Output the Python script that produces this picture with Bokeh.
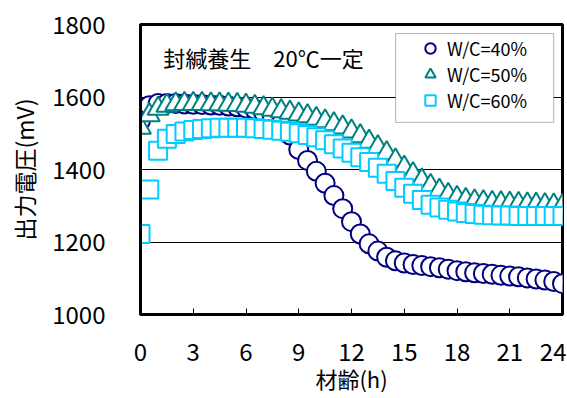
from bokeh.plotting import figure
from bokeh.models import Legend, LegendItem, FixedTicker, Label, BoxAnnotation, ColumnDataSource
from bokeh.embed import file_html
from bokeh.resources import INLINE

# --- data ---
hours = [0, 0.5, 1, 1.5, 2, 2.5, 3, 3.5, 4, 4.5, 5, 5.5, 6, 6.5, 7, 7.5, 8, 8.5,
         9, 9.5, 10, 10.5, 11, 11.5, 12, 12.5, 13, 13.5, 14, 14.5, 15, 15.5, 16,
         16.5, 17, 17.5, 18, 18.5, 19, 19.5, 20, 20.5, 21, 21.5, 22, 22.5, 23,
         23.5, 24]

wc40 = [1535, 1576, 1582, 1582, 1582, 1581, 1580, 1579, 1578, 1577, 1575, 1573,
        1570, 1566, 1558, 1546, 1527, 1495, 1455, 1425, 1395, 1362, 1328, 1292,
        1256, 1222, 1195, 1175, 1158, 1148, 1142, 1138, 1135, 1132, 1129, 1125,
        1121, 1118, 1115, 1113, 1111, 1108, 1106, 1104, 1101, 1098, 1095, 1091,
        1085]

wc50 = [1515, 1550, 1568, 1576, 1580, 1581, 1581, 1581, 1580, 1580, 1579, 1578,
        1576, 1573, 1569, 1565, 1561, 1557, 1552, 1547, 1540, 1533, 1525, 1516,
        1505, 1492, 1477, 1462, 1445, 1425, 1405, 1387, 1370, 1355, 1342, 1330,
        1322, 1316, 1312, 1310, 1308, 1307, 1306, 1305, 1304, 1303, 1302, 1301,
        1300]

wc60 = [1222, 1345, 1452, 1485, 1498, 1505, 1509, 1512, 1514, 1515, 1515, 1515,
        1515, 1514, 1512, 1510, 1507, 1504, 1500, 1495, 1489, 1481, 1470, 1458,
        1446, 1434, 1421, 1405, 1388, 1368, 1350, 1333, 1316, 1303, 1295, 1289,
        1284, 1280, 1277, 1275, 1274, 1273, 1273, 1272, 1272, 1272, 1272, 1272,
        1272]

series_labels = ["W/C=40%", "W/C=50%", "W/C=60%"]
x_ticks = [0, 3, 6, 9, 12, 15, 18, 21, 24]
y_ticks = [1000, 1200, 1400, 1600, 1800]
x_title = "材齢(h)"
y_title = "出力電圧(mV)"
note = "封緘養生　20℃一定"

FONT = "Noto Sans CJK JP"

src = ColumnDataSource(dict(h=hours, a=wc40, b=wc50, c=wc60))

p = figure(width=566, height=398, x_range=(0, 24), y_range=(1000, 1800),
           output_backend="svg", toolbar_location=None,
           min_border_left=140, min_border_right=4, min_border_top=24,
           min_border_bottom=84)

p.background_fill_color = "white"
p.border_fill_color = "white"
p.outline_line_color = "black"
p.outline_line_width = 3

# grid
p.xgrid.visible = False
p.ygrid.ticker = FixedTicker(ticks=y_ticks)
p.ygrid.grid_line_color = "black"
p.ygrid.grid_line_width = 1.2

# axes
p.xaxis.ticker = FixedTicker(ticks=x_ticks)
p.yaxis.ticker = FixedTicker(ticks=y_ticks)
for ax in (p.xaxis[0], p.yaxis[0]):
    ax.axis_line_width = 3
    ax.axis_line_color = "black"
    ax.major_label_text_font = FONT
    ax.major_label_text_font_size = "24px"
    ax.major_label_text_color = "black"
    ax.axis_label_text_font = FONT
    ax.axis_label_text_font_size = "22px"
    ax.axis_label_text_font_style = "normal"
    ax.axis_label_text_color = "black"
    ax.minor_tick_line_color = None

p.xaxis.major_tick_in = 6
p.xaxis.major_tick_out = 0
p.xaxis.major_tick_line_width = 1
p.xaxis.major_label_standoff = 28
p.xaxis.axis_label = x_title
p.xaxis.axis_label_standoff = -2

p.yaxis.major_tick_line_color = None
p.yaxis.major_tick_in = 0
p.yaxis.major_tick_out = 0
p.yaxis.major_label_standoff = 35
p.yaxis.axis_label = y_title
p.yaxis.axis_label_standoff = 8
p.yaxis.axis_label_text_font_size = "23px"

# series
r40 = p.scatter("h", "a", source=src, marker="circle", size=19,
                line_color="#000080", line_width=2, fill_color="white")
r50 = p.scatter("h", "b", source=src, marker="triangle", size=21,
                line_color="#008080", line_width=2, fill_color="white")
r60 = p.scatter("h", "c", source=src, marker="square", size=18,
                line_color="#00CCFF", line_width=2, fill_color="white")

# note
p.add_layout(Label(x=1.3, y=1709, text=note, text_font=FONT,
                   text_font_size="22px", text_color="black",
                   text_baseline="middle", text_align="left"))

# legend frame
p.add_layout(BoxAnnotation(left=14.51, right=23.5, top=1775, bottom=1530,
                           fill_color="white", fill_alpha=1,
                           line_color="black", line_width=1))

legend = Legend(items=[LegendItem(label=series_labels[0], renderers=[r40]),
                       LegendItem(label=series_labels[1], renderers=[r50]),
                       LegendItem(label=series_labels[2], renderers=[r60])],
                location=(277, 201))
legend.label_text_font = FONT
legend.label_text_font_size = "18px"
legend.label_text_color = "black"
legend.background_fill_alpha = 0
legend.border_line_color = None
legend.padding = 0
legend.margin = 0
legend.spacing = 0
legend.glyph_width = 26
legend.glyph_height = 26
legend.label_height = 26
legend.label_standoff = 4
p.add_layout(legend)

open("out.html", "w").write(file_html(p, INLINE))
